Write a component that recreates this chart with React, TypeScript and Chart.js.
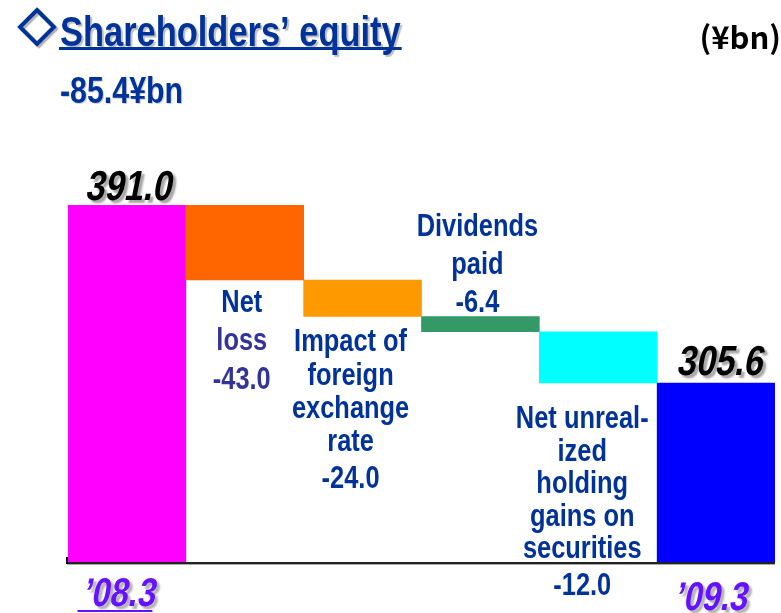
import React, { useEffect, useRef } from "react";
import { Chart, registerables } from "chart.js";

Chart.register(...registerables);

// ---- data ----
const categories = ["\u201908.3", "Net loss", "Impact of foreign exchange rate", "Dividends paid", "Net unrealized holding gains on securities", "\u201909.3"];
const totalValues = [391.0, 305.6]; // '08.3, '09.3
const changeValues = [-43.0, -24.0, -6.4, -12.0];
// bar edge heights as drawn in the reference picture (the original is not drawn to scale)
const barLevels = [391.0, 308.9, 268.9, 252.2, 196.0];
const barColors = ["#FF00FF", "#FF6600", "#FF9900", "#339966", "#00FFFF", "#0000FF"];
const labelLines: string[][] = [
  [],
  ["Net", "loss"],
  ["Impact of", "foreign", "exchange", "rate"],
  ["Dividends", "paid"],
  ["Net unreal-", "ized", "holding", "gains on", "securities"],
  [],
];
const titleText = "Shareholders\u2019 equity";
const unitText = "(\u00a5bn)";

const FONT = '"Liberation Sans", Arial, sans-serif';
const NARROW = 0.82;
const BLUE = "#003399";
const PURPLE = "#6611FF";

type TOpts = { size: number; bold?: boolean; slant?: number; color: string; align?: CanvasTextAlign; shadow?: [string, number, number, number]; narrow?: number; family?: string };

function drawText(ctx: CanvasRenderingContext2D, s: string, x: number, y: number, o: TOpts): number {
  ctx.save();
  ctx.font = `${o.bold ? "bold " : ""}${o.size}px ${o.family || FONT}`;
  ctx.fillStyle = o.color;
  ctx.textBaseline = "alphabetic";
  ctx.textAlign = o.align || "center";
  const sx = o.narrow ?? NARROW;
  if (o.shadow) {
    ctx.shadowColor = o.shadow[0];
    ctx.shadowOffsetX = o.shadow[1];
    ctx.shadowOffsetY = o.shadow[2];
    ctx.shadowBlur = o.shadow[3];
  }
  ctx.translate(x, y);
  if (o.slant) ctx.transform(1, 0, -o.slant, 1, 0, 0);
  ctx.scale(sx, 1);
  ctx.fillText(s, 0, 0);
  const w = ctx.measureText(s).width * sx;
  ctx.restore();
  return w;
}

// layout of the multi-line labels relative to each bar
const labelLayout: Record<number, { dx: number; anchor: "below" | "above"; first: number; step: number; valGap: number; lineColors?: string[] }> = {
  1: { dx: -3, anchor: "below", first: 31.7, step: 38.5, valGap: 38.5, lineColors: [BLUE, "#333399", "#333399"] },
  2: { dx: -12, anchor: "below", first: 35, step: 33.2, valGap: 36.7 },
  3: { dx: -3, anchor: "above", first: 0, step: 38.3, valGap: 38.3 },
  4: { dx: -16, anchor: "below", first: 45, step: 32.5, valGap: 37 },
};

const overlayPlugin = {
  id: "overlay",
  afterDatasetsDraw(chart: any) {
    const ctx: CanvasRenderingContext2D = chart.ctx;
    const meta = chart.getDatasetMeta(0);
    const area = chart.chartArea;

    // header: diamond
    ctx.save();
    ctx.shadowColor = "rgba(0,0,0,0.3)";
    ctx.shadowOffsetX = 2;
    ctx.shadowOffsetY = 2;
    ctx.shadowBlur = 1;
    ctx.strokeStyle = BLUE;
    ctx.lineWidth = 4;
    ctx.lineJoin = "miter";
    const cx = 37, cy = 27, r = 17;
    ctx.beginPath();
    ctx.moveTo(cx, cy - r);
    ctx.lineTo(cx + r, cy);
    ctx.lineTo(cx, cy + r);
    ctx.lineTo(cx - r, cy);
    ctx.closePath();
    ctx.stroke();
    ctx.restore();

    // title + underline
    const tw = drawText(ctx, titleText, 60, 46, { size: 42, bold: true, color: BLUE, align: "left", shadow: ["rgba(0,0,0,0.25)", 2, 2, 1] });
    ctx.fillStyle = BLUE;
    ctx.fillRect(59, 47, tw + 2, 3);

    // subtitle
    const diff = (totalValues[1] - totalValues[0]).toFixed(1);
    drawText(ctx, `${diff}\u00a5bn`, 60, 103, { size: 37, bold: true, color: BLUE, align: "left", shadow: ["rgba(0,0,0,0.2)", 1, 1, 1] });

    // unit
    drawText(ctx, unitText, 781, 49, { size: 31, bold: true, color: "#000", align: "right", narrow: 1, family: '"Noto Sans CJK JP", sans-serif' });

    // baseline
    const baseY = area.bottom;
    ctx.fillStyle = "#222";
    ctx.fillRect(area.left - 1, baseY, area.right - area.left + 1, 2);
    ctx.fillStyle = "#aaa";
    ctx.fillRect(area.left - 1, baseY + 2, area.right - area.left + 1, 1);
    ctx.fillStyle = "#000";
    ctx.fillRect(area.left - 2, baseY - 5, 2, 7);

    // totals labels
    const totIdx = [0, categories.length - 1];
    totIdx.forEach((idx, k) => {
      const el = meta.data[idx];
      const top = Math.min(el.y, el.base);
      const gap = k === 0 ? 5 : 8;
      const dx = k === 0 ? 1 : 3;
      drawText(ctx, totalValues[k].toFixed(1), el.x + dx, top - gap, { size: 42, bold: true, slant: 0.2, color: "#000", shadow: ["rgba(0,0,0,0.35)", 3, 3, 2] });
      const lx = k === 0 ? -9 : -6;
      const ly = k === 0 ? 44 : 48;
      const w = drawText(ctx, categories[idx], el.x + lx, baseY + ly, { size: 40, bold: true, slant: 0.2, color: PURPLE, shadow: ["rgba(0,0,0,0.3)", 3, 3, 2] });
      ctx.fillStyle = PURPLE;
      ctx.fillRect(el.x + lx - w / 2 - 4, baseY + ly + 4, w + 2, 2);
    });

    // change labels
    for (let i = 1; i <= 4; i++) {
      const el = meta.data[i];
      const L = labelLayout[i];
      const top = Math.min(el.y, el.base);
      const bottom = Math.max(el.y, el.base);
      const lines = labelLines[i];
      const val = changeValues[i - 1].toFixed(1);
      const x = el.x + L.dx;
      const ys: number[] = [];
      if (L.anchor === "below") {
        let y = bottom + L.first;
        lines.forEach((_, j) => { ys.push(y); if (j < lines.length - 1) y += L.step; });
        ys.push(y + L.valGap);
      } else {
        const vy = top - 4.3;
        const n = lines.length;
        for (let j = 0; j < n; j++) ys.push(vy - L.valGap - (n - 1 - j) * L.step);
        ys.push(vy);
      }
      const all = [...lines, val];
      all.forEach((s, j) => {
        const color = L.lineColors ? L.lineColors[j] : BLUE;
        drawText(ctx, s, x, ys[j], { size: 31, bold: true, color });
      });
    }
  },
};

export default function App() {
  const ref = useRef<HTMLCanvasElement | null>(null);
  useEffect(() => {
    document.body.style.margin = "0";
    const canvas = ref.current!;
    const data = [
      [0, barLevels[0]],
      [barLevels[1], barLevels[0]],
      [barLevels[2], barLevels[1]],
      [barLevels[3], barLevels[2]],
      [barLevels[4], barLevels[3]],
      [0, barLevels[4]],
    ];
    const chart = new Chart(canvas, {
      type: "bar",
      data: {
        labels: categories,
        datasets: [
          {
            data: data as any,
            backgroundColor: barColors,
            borderWidth: 0,
            barPercentage: 1,
            categoryPercentage: 1,
          },
        ],
      },
      options: {
        responsive: false,
        animation: false,
        devicePixelRatio: 1,
        layout: { padding: { left: 68, right: 6, top: 205, bottom: 51 } },
        plugins: { legend: { display: false }, tooltip: { enabled: false }, title: { display: false } },
        scales: {
          x: { display: false },
          y: { display: false, min: 0, max: 391 },
        },
      },
      plugins: [overlayPlugin],
    });
    return () => chart.destroy();
  }, []);
  return <canvas ref={ref} width={781} height={613} style={{ display: "block" }} />;
}
